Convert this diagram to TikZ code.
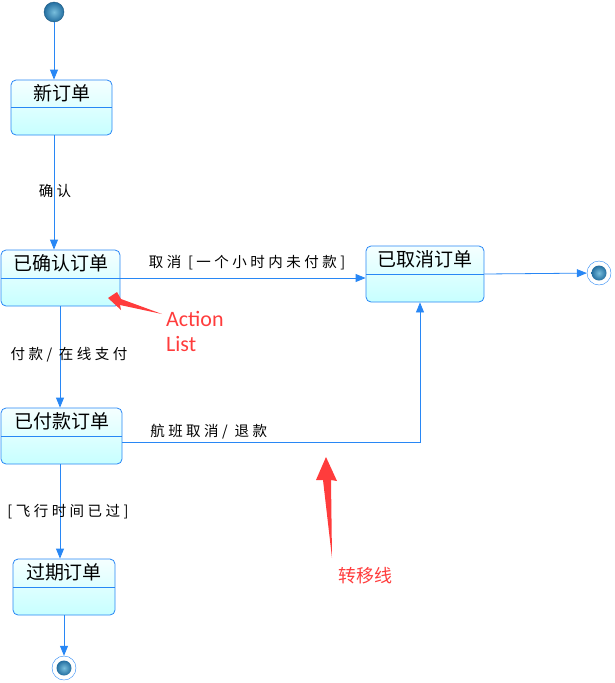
\documentclass[tikz,border=0pt]{standalone}
\usepackage{fontspec}
\setmainfont{Noto Sans CJK SC}
\newfontfamily\notefont{Carlito}
\usetikzlibrary{arrows.meta}

\definecolor{lineblue}{RGB}{40,135,245}
\definecolor{ballhi}{RGB}{120,190,220}
\definecolor{balllo}{RGB}{35,110,160}
\definecolor{noteRed}{RGB}{255,60,60}

\tikzset{
  state/.style={draw=lineblue, thick, rounded corners=5pt,
    top color=cyan!4, bottom color=cyan!22,
    path picture={\draw[lineblue, thick] (path picture bounding box.west) -- (path picture bounding box.east);}},
  title/.style={font=\fontsize{19}{19}\selectfont, inner sep=0pt},
  trlabel/.style={text=black, font=\fontsize{14.5}{15}\selectfont\addfontfeature{LetterSpace=24}, inner sep=0pt},
  trans/.style={lineblue, thick, -{Triangle[length=10pt,width=8pt]}},
  ball/.style={inner color=ballhi, outer color=balllo},
  note/.style={text=noteRed, align=left, inner sep=0pt}
}

\begin{document}
\begin{tikzpicture}[x=1pt, y=-1pt]
  \useasboundingbox (0,0) rectangle (615,683);

  % Initial and final states
  \coordinate (init) at (54,12);
  \shade[ball] (init) circle (10);
  \draw[balllo!80!black, thin] (init) circle (10);
  \node[circle, minimum size=20pt, inner sep=0pt] (start) at (init) {};
  \node[circle, draw=lineblue, fill=white, minimum size=24pt, inner sep=0pt] (end1) at (599,273) {};
  \node[circle, draw=lineblue, fill=white, minimum size=24pt, inner sep=0pt] (end2) at (64,668) {};
  \shade[ball] (end1) circle (7.5);
  \shade[ball] (end2) circle (7.5);

  % States (boxes)
  \node[state, minimum width=101pt, minimum height=55pt] (neworder) at (61.5,107.5) {};
  \node[state, minimum width=119pt, minimum height=56pt] (confirmed) at (60.5,278) {};
  \node[state, minimum width=118pt, minimum height=56pt] (cancelled) at (425,274) {};
  \node[state, minimum width=121pt, minimum height=56pt] (paid) at (61.5,436) {};
  \node[state, minimum width=102pt, minimum height=56pt] (expired) at (64,587) {};

  % Titles
  \node[title] (neworder-t) at ([yshift=-13.5pt]neworder.north) {新订单};
  \node[title] (confirmed-t) at ([yshift=-14pt]confirmed.north) {已确认订单};
  \node[title] (cancelled-t) at ([yshift=-14pt]cancelled.north) {已取消订单};
  \node[title] (paid-t) at ([yshift=-14pt]paid.north) {已付款订单};
  \node[title] (expired-t) at ([yshift=-14pt]expired.north) {过期订单};

  % Transitions
  \draw[trans] (start) -- (init |- neworder.north);
  \draw[trans] (neworder.south -| init) -- (init |- confirmed.north)
    node[trlabel, pos=0.49, xshift=1pt] (lbl-ok) {确认};
  \draw[trans] (confirmed.east) -- (confirmed.east -| cancelled.west)
    node[trlabel, midway, yshift=15pt, xshift=4pt] (lbl-cancel) {取消 [一个小时内未付款]};
  \draw[trans] (cancelled.east) -- (end1);
  \draw[trans] (confirmed.south -| 60,0) -- (paid.north -| 60,0)
    node[trlabel, pos=0.48, xshift=9pt] (lbl-pay) {付款/ 在线支付};
  \coordinate (bend) at (420,442);
  \draw[trans] (paid.east |- bend) -- (bend)
    node[trlabel, pos=0.29, yshift=10pt] (lbl-refund) {航班取消/ 退款}
    -- (bend |- cancelled.south);
  \draw[trans] (paid.south -| 60,0) -- (expired.north -| 60,0)
    node[trlabel, pos=0.5, xshift=8pt] (lbl-time) {[飞行时间已过]};
  \draw[trans] (expired.south -| end2) -- (end2);

  % Red notes
  \fill[noteRed] (108,298) -- (117,292) -- (121,299) -- (162,314) -- (120,305) -- (121,310) -- cycle;
  \node[note, font=\notefont\fontsize{22}{25}\selectfont, anchor=north west] (action) at (166,311) {Action\\List};
  \fill[noteRed] (326,457) -- (337,481) -- (331,480) -- (332,558) -- (323,480) -- (316,480) -- cycle;
  \node[note, font=\fontsize{18}{18}\selectfont] (translabel) at (365,576) {转移线};
\end{tikzpicture}
\end{document}
